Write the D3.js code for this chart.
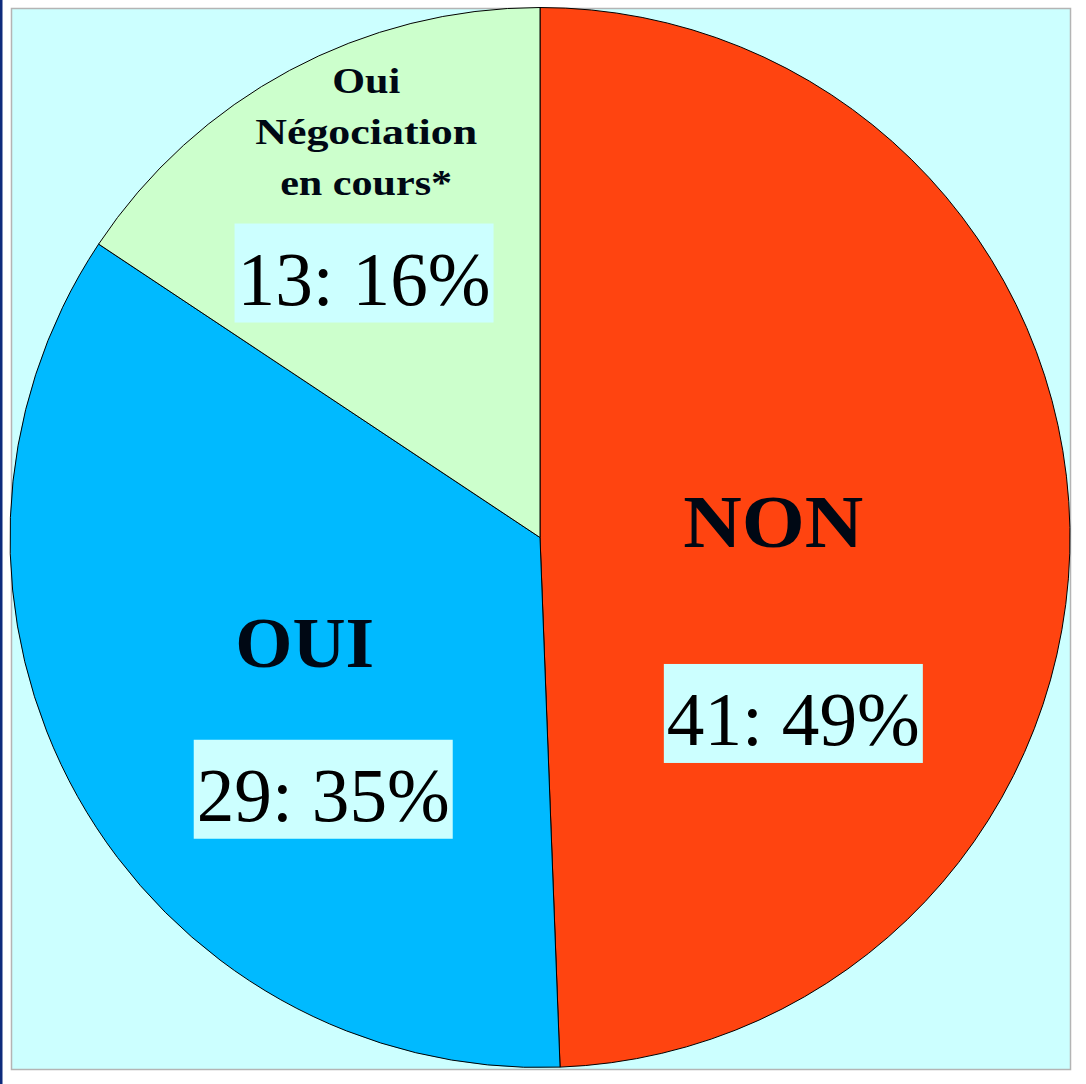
<!DOCTYPE html>
<html>
<head>
<meta charset="utf-8">
<script src="https://cdn.jsdelivr.net/npm/d3@7"></script>
<style>
	body { margin: 0; background: #fff; }
	svg { display: block; }
</style>
</head>
<body>
<div id="chart"></div>
<script>
// data
var categories = ["NON", "OUI", "Oui Négociation en cours*"];
var values = [41, 29, 13];
var colors = ["#ff4410", "#00baff", "#ccffcc"];
var titleLines = [["NON"], ["OUI"], ["Oui", "Négociation", "en cours*"]];

var w = 1086,
	h = 1084;
var cx = 540,
	cy = 537.5,
	r = 530;

// label anchor (fraction of radius from centre, title = first baseline) and title styling per slice
var labelLayout = [
	{ title: [0.44, 0.018], box: [0.478, 0.332], size: 74, len: [180], lh: 0 },
	{ title: [-0.444, 0.244], box: [-0.409, 0.475], size: 72, len: [139], lh: 0 },
	{ title: [-0.328, -0.839], box: [-0.332, -0.499], size: 35, len: [68, 222, 172], lh: 51 }
];

var svg = d3.select("#chart").append("svg").attr("width", w).attr("height", h);

svg.append("rect").attr("x", 0).attr("y", 0).attr("width", 2.5).attr("height", h).attr("fill", "#0d2b7c");
svg.append("rect").attr("x", 11.5).attr("y", 8.5).attr("width", 1059).attr("height", 1061)
	.attr("fill", "#ccffff").attr("stroke", "#b4b4b4").attr("stroke-width", 1.5);

var total = d3.sum(values);
var pct = d3.format(".0%");

var pie = d3.pie().sort(null).value(function(d) { return d; });
var arcs = pie(values);
var arc = d3.arc().innerRadius(0).outerRadius(r);

var g = svg.append("g").attr("transform", "translate(" + cx + "," + cy + ")");

g.selectAll("path.slice").data(arcs).enter().append("path")
	.attr("class", "slice")
	.attr("d", arc)
	.attr("fill", function(d, i) { return colors[i]; })
	.attr("stroke", "#000")
	.attr("stroke-width", 1);

var labels = g.selectAll("g.lbl").data(arcs).enter().append("g").attr("class", "lbl");

labels.each(function(d, i) {
	var el = d3.select(this);
	var lay = labelLayout[i];
	var lines = titleLines[i];
	var tx = lay.title[0] * r,
		ty = lay.title[1] * r;
	lines.forEach(function(line, k) {
		el.append("text")
			.attr("x", tx)
			.attr("y", ty + k * lay.lh)
			.attr("text-anchor", "middle")
			.attr("font-family", "'Liberation Serif', 'Times New Roman', serif")
			.attr("font-weight", "bold")
			.attr("font-size", lay.size)
			.attr("fill", "#000814")
			.attr("textLength", lay.len[k])
			.attr("lengthAdjust", "spacingAndGlyphs")
			.text(line);
	});

	var bx = lay.box[0] * r,
		by = lay.box[1] * r;
	el.append("rect")
		.attr("x", bx - 129.5)
		.attr("y", by - 49.5)
		.attr("width", 259)
		.attr("height", 99)
		.attr("fill", "#ccffff");
	el.append("text")
		.attr("x", bx)
		.attr("y", by + 32)
		.attr("text-anchor", "middle")
		.attr("font-family", "'Liberation Serif', 'Times New Roman', serif")
		.attr("font-size", 77)
		.attr("fill", "#000")
		.attr("textLength", 253)
		.attr("lengthAdjust", "spacingAndGlyphs")
		.text(d.data + ": " + pct(d.data / total));
});
</script>
</body>
</html>
